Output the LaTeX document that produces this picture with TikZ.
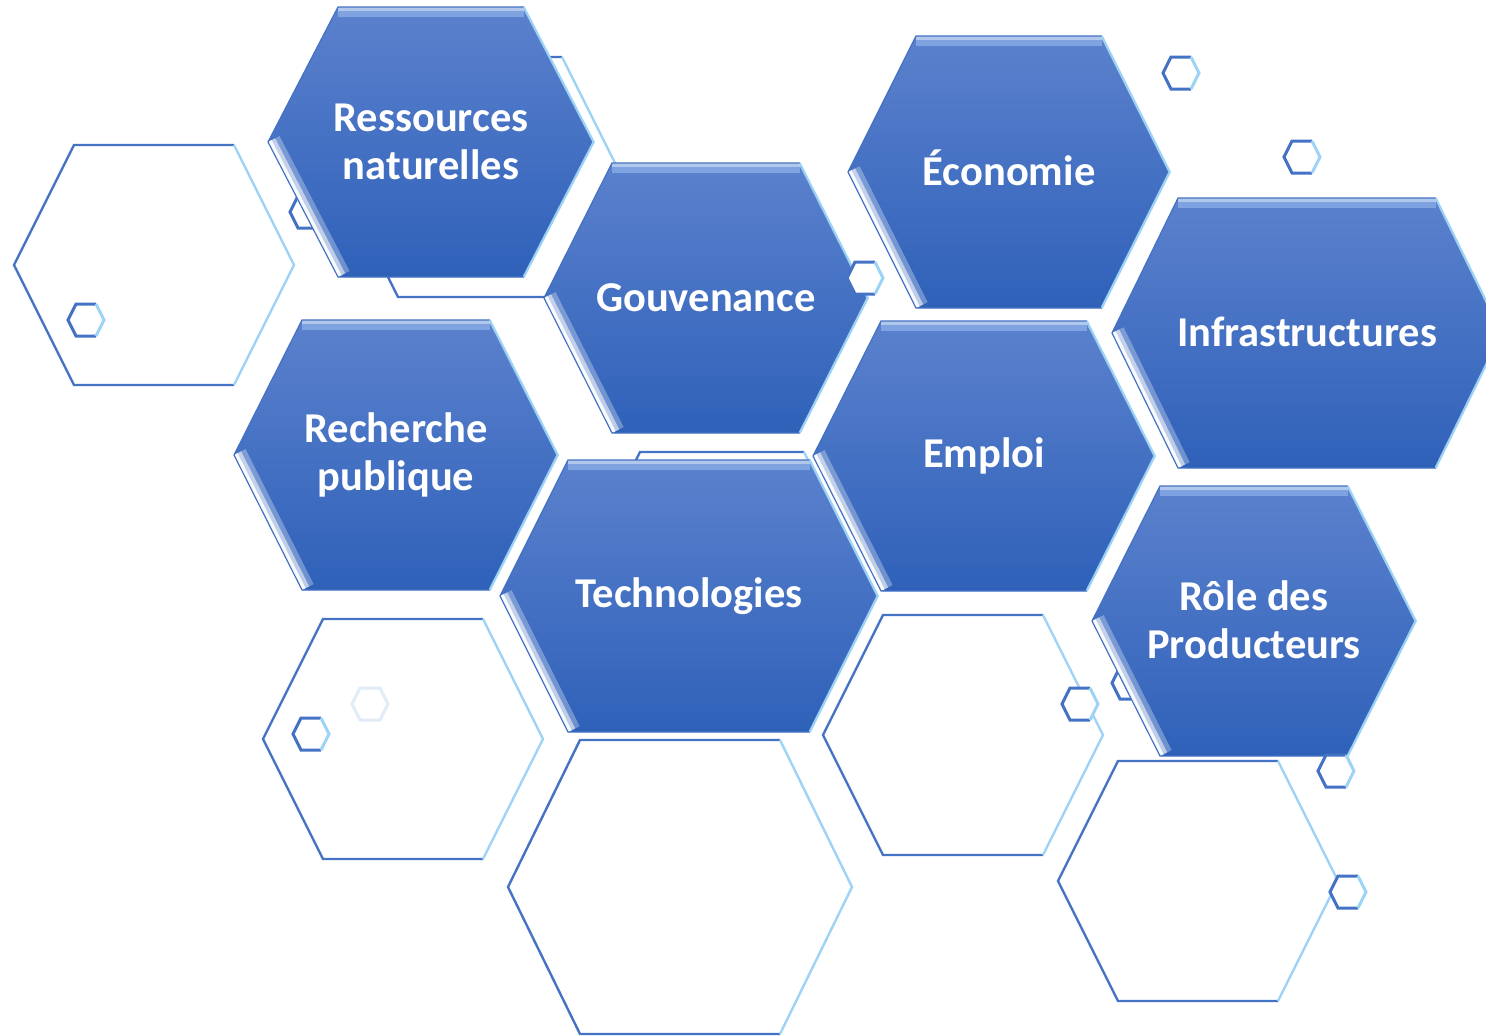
\documentclass[tikz,border=0pt]{standalone}
\usepackage{fontspec}
\setmainfont{Carlito}
\definecolor{hexTop}{RGB}{91,129,205}
\definecolor{hexBot}{RGB}{47,97,185}
\definecolor{edgeDark}{RGB}{68,114,196}
\definecolor{edgeLight}{RGB}{157,211,245}
\definecolor{bevelTop}{RGB}{165,196,244}
\definecolor{faintHex}{RGB}{226,236,248}
\tikzset{
  hexlabel/.style={text=white, align=center, font=\bfseries\fontsize{42.5}{48}\selectfont, inner sep=0pt},
  darkedge/.style={draw=edgeDark, line width=#1, line join=miter},
  lightedge/.style={draw=edgeLight, line width=#1, line join=miter},
}
% hex corner helper
\newcommand\hxcorners[5]{%
  \pgfmathsetmacro\hxL{#1-#3}\pgfmathsetmacro\hxR{#1+#3}%
  \pgfmathsetmacro\hxT{#2-#4}\pgfmathsetmacro\hxB{#2+#4}%
  \pgfmathsetmacro\hxLi{#1-#3+#5}\pgfmathsetmacro\hxRi{#1+#3-#5}%
  \pgfmathsetmacro\hxM{#2}%
}
% filled bevelled hexagon with label: name, cx, cy, hw, hh, inset, text, text y shift
\newcommand\fhex[8]{%
  \hxcorners{#2}{#3}{#4}{#5}{#6}%
  \shade[top color=hexTop, bottom color=hexBot]
    (\hxL,\hxM) -- (\hxLi,\hxT) -- (\hxRi,\hxT) -- (\hxR,\hxM) -- (\hxRi,\hxB) -- (\hxLi,\hxB) -- cycle;
  \begin{scope}
    \clip (\hxL,\hxM) -- (\hxLi,\hxT) -- (\hxRi,\hxT) -- (\hxR,\hxM) -- (\hxRi,\hxB) -- (\hxLi,\hxB) -- cycle;
    \draw[line width=20, bevelTop, opacity=.5] (\hxLi,\hxT) -- (\hxRi,\hxT);
    \draw[line width=7, white, opacity=.4] (\hxLi,\hxT) -- (\hxRi,\hxT);
    \draw[line width=26, white, opacity=.3] (\hxL,\hxM) -- (\hxLi,\hxB);
    \draw[line width=16, white, opacity=.55] (\hxL,\hxM) -- (\hxLi,\hxB);
    \draw[line width=8, white, opacity=.9] (\hxL,\hxM) -- (\hxLi,\hxB);
    \draw[line width=3, edgeLight, opacity=.9] (\hxRi,\hxT) -- (\hxR,\hxM) -- (\hxRi,\hxB);
  \end{scope}
  \draw[darkedge=1.2] (\hxRi,\hxB) -- (\hxLi,\hxB) -- (\hxL,\hxM) -- (\hxLi,\hxT) -- (\hxRi,\hxT);
  \draw[lightedge=1.6] (\hxRi,\hxT) -- (\hxR,\hxM) -- (\hxRi,\hxB);
  \node[hexlabel] (#1) at (#2,{#3+#8}) {#7};
}
% outline hexagon: cx, cy, hw, hh, inset, line width
\newcommand\ohex[6]{%
  \hxcorners{#1}{#2}{#3}{#4}{#5}%
  \draw[darkedge=#6] (\hxRi,\hxB) -- (\hxLi,\hxB) -- (\hxL,\hxM) -- (\hxLi,\hxT) -- (\hxRi,\hxT);
  \draw[lightedge=#6] (\hxRi,\hxT) -- (\hxR,\hxM) -- (\hxRi,\hxB);
}
% small hexagon with white fill: cx, cy
\newcommand\shex[2]{%
  \hxcorners{#1}{#2}{18}{16}{8}%
  \fill[white] (\hxL,\hxM) -- (\hxLi,\hxT) -- (\hxRi,\hxT) -- (\hxR,\hxM) -- (\hxRi,\hxB) -- (\hxLi,\hxB) -- cycle;
  \ohex{#1}{#2}{18}{16}{8}{3}%
}
\begin{document}
\begin{tikzpicture}[x=1pt,y=-1pt]
\clip (0,0) rectangle (1486,1036);
\fill[white] (0,0) rectangle (1486,1036);

% background outline hexagons
\ohex{480}{177}{142}{120}{60}{2.4}
\ohex{722}{572}{142}{120}{60}{2.4}
\ohex{154}{265}{140}{120}{60}{2.4}
\ohex{403}{739}{140}{120}{60}{2.4}
\ohex{680}{887}{172}{147}{72}{2.4}
\ohex{963}{735}{140}{120}{60}{2.4}
\ohex{1198}{881}{140}{120}{60}{2.4}

% small hexagons behind
\shex{308}{212}
\shex{1130}{683}
\shex{86}{320}
\shex{311}{734}
\shex{1181}{73}
\shex{1302}{157}
\hxcorners{370}{704}{18}{16}{8}
\draw[draw=faintHex, line width=3] (\hxL,\hxM) -- (\hxLi,\hxT) -- (\hxRi,\hxT) -- (\hxR,\hxM) -- (\hxRi,\hxB) -- (\hxLi,\hxB) -- cycle;

% filled hexagons
\fhex{ress}{431}{142}{163}{135}{70}{Ressources\\naturelles}{0}
\fhex{gouv}{706}{298}{162}{135}{68}{Gouvenance}{0}
\fhex{eco}{1009}{172}{161}{136}{68}{Économie}{-4}
\fhex{infra}{1307}{333}{195}{135}{66}{Infrastructures}{-1}
\fhex{rech}{396}{455}{162}{135}{68}{Recherche\\publique}{0}
\fhex{emploi}{984}{456}{171}{135}{68}{Emploi}{0}
\fhex{tech}{689}{596}{189}{136}{68}{Technologies}{0}
\fhex{role}{1254}{621}{162}{135}{68}{Rôle des\\Producteurs}{-1}

% small hexagons in front
\shex{865}{278}
\shex{1080}{704}
\shex{1336}{771}
\shex{1348}{892}
\end{tikzpicture}
\end{document}
